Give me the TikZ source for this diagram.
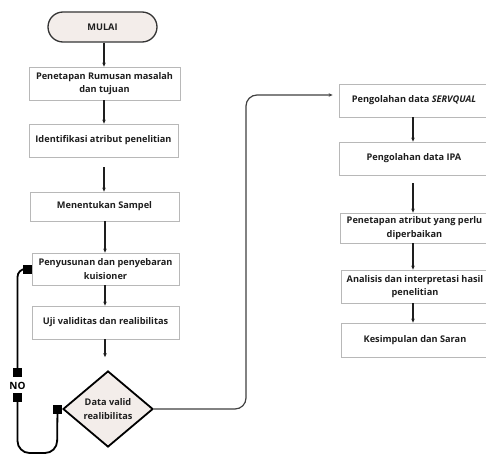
\documentclass[tikz,border=0pt]{standalone}
\usepackage{fontspec}
\setmainfont{Open Sans}
\usetikzlibrary{shapes.geometric,arrows.meta}
\definecolor{beige}{HTML}{F3EDEA}
\definecolor{boxline}{HTML}{B8B8B8}
\definecolor{ink}{HTML}{1E1E1E}
\begin{document}
\begin{tikzpicture}[x=1pt,y=-1pt,
  every node/.style={font=\fontsize{9.2}{13.5}\selectfont\bfseries, text=ink},
  box/.style={draw=boxline, line width=0.8pt, fill=white, align=center, inner sep=0pt},
  conn/.style={draw=ink, line width=1.2pt},
  arr/.style={conn, -{Stealth[length=4pt,width=3.5pt]}},
  loop/.style={draw=black, line width=1.8pt},
  mk/.style={fill=black, inner sep=0pt, minimum size=9pt}]
\clip (0,0) rectangle (486,460);
\fill[white] (0,0) rectangle (486,460);
% left column
\node[draw=ink!90, line width=1.3pt, fill=beige, rounded corners=15pt, minimum width=109pt, minimum height=30pt, inner sep=0pt] (start) at (102.5,27) {MULAI};
\node[box, minimum width=151pt, minimum height=33pt] (b1) at (104.5,83.5) {Penetapan Rumusan masalah\\dan tujuan};
\node[box, minimum width=149pt, minimum height=33pt] (b2) at (103.5,140.5) {Identifikasi atribut penelitian};
\node[box, minimum width=149pt, minimum height=29pt] (b3) at (104.5,206.5) {Menentukan Sampel};
\node[box, minimum width=147pt, minimum height=32pt] (b4) at (105.5,269) {Penyusunan dan penyebaran\\kuisioner};
\node[box, minimum width=147pt, minimum height=33pt] (b5) at (105.5,322.5) {Uji validitas dan realibilitas};
\node[diamond, aspect=1.18, draw=black, line width=1.8pt, fill=beige, inner sep=0pt, minimum width=90pt, minimum height=76pt, align=center] (dia) at (108,409) {Data valid\\realibilitas};
% right column
\node[box, minimum width=150pt, minimum height=33pt] (r1) at (414,100.5) {Pengolahan data \textit{SERVQUAL}};
\node[box, minimum width=150pt, minimum height=33pt] (r2) at (414,158.5) {Pengolahan data IPA};
\node[box, minimum width=149pt, minimum height=30pt] (r3) at (414.5,228) {Penetapan atribut yang perlu\\diperbaikan};
\node[box, minimum width=148pt, minimum height=33pt] (r4) at (415,286.5) {Analisis dan interpretasi hasil\\penelitian};
\node[box, minimum width=148pt, minimum height=34pt] (r5) at (415,340) {Kesimpulan dan Saran};
% arrows left
\draw[arr] (start.south -| 104,0) -- (b1.north -| 104,0);
\draw[arr] (b1.south -| 104,0) -- (b2.north -| 104,0);
\draw[arr] ([yshift=-10pt]b2.south -| 104,0) -- (b3.north -| 104,0);
\draw[arr] (b3.south -| 105,0) -- (b4.north -| 105,0);
\draw[arr] (b4.south -| 105,0) -- (b5.north -| 105,0);
\draw[arr] (b5.south -| 105,0) -- ([yshift=13pt]dia.north -| 105,0);
% arrows right
\draw[arr] (r1.south -| 413,0) -- (r2.north -| 413,0);
\draw[arr] ([yshift=-8pt]r2.south -| 413,0) -- (r3.north -| 413,0);
\draw[arr] (r3.south -| 413,0) -- (r4.north -| 413,0);
\draw[arr] (r4.south -| 413,0) -- (r5.north -| 413,0);
% yes connector
\coordinate (c1) at (246,409);
\coordinate (c2) at (246,95);
\draw[arr, draw=ink!85, rounded corners=11pt] (dia.east) -- (c1) -- (c2) -- ([xshift=-6pt]r1.west |- 0,95);
% NO loop
\node[mk] (m1) at (27,269) {};
\node[mk] (m2) at (17.5,372.5) {};
\node[mk] (m3) at (17.5,397.5) {};
\node[mk] (m4) at (57.5,409) {};
\node[font=\fontsize{10}{12}\selectfont\bfseries, text=black, inner sep=0pt] (no) at (17.5,385.5) {NO};
\draw[loop, rounded corners=8pt] (m1.center) -| (m2.center);
\draw[loop, rounded corners=12pt] (m3.center) -- (17.5,453) -- (57,453) -- (m4.center);
\draw[loop] (m4.center) -- (dia.west);
\end{tikzpicture}
\end{document}
